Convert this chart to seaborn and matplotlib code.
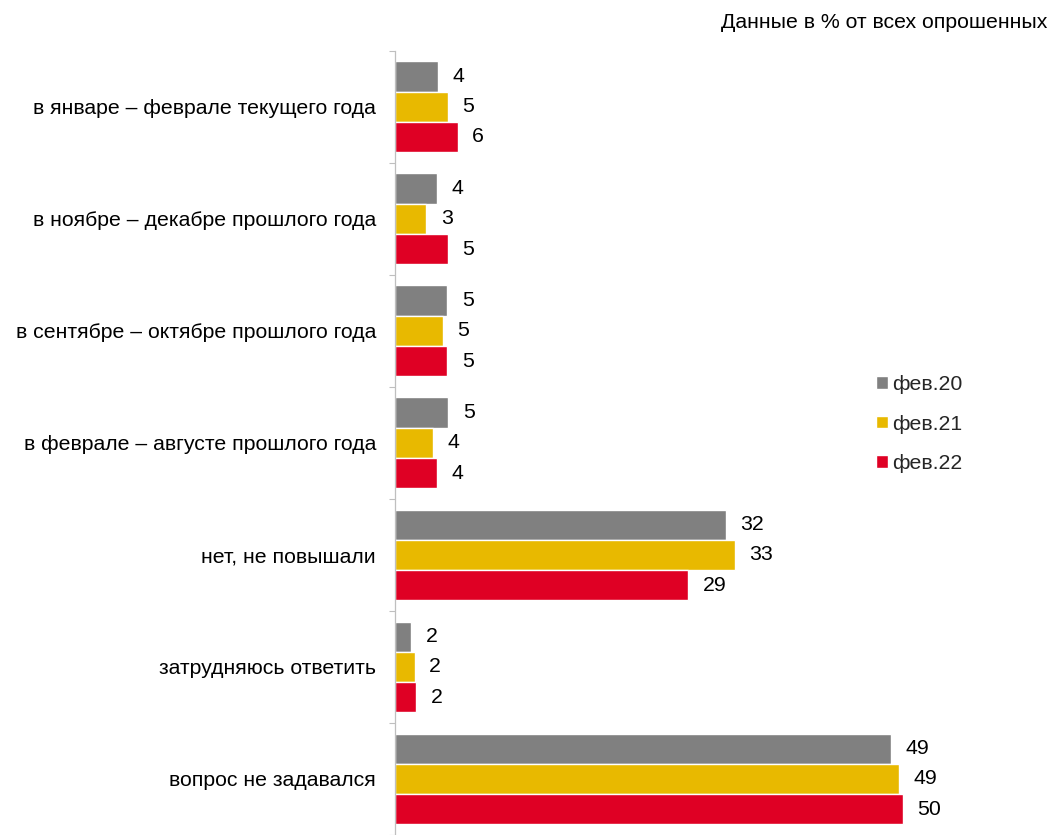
import matplotlib
matplotlib.use("Agg")
import matplotlib.pyplot as plt
import seaborn as sns
import pandas as pd

# | Data |-------------------------------------------------------------------------------------------------------------|
categories = [
    "в январе – феврале текущего года",
    "в ноябре – декабре прошлого года",
    "в сентябре – октябре прошлого года",
    "в феврале – августе прошлого года",
    "нет, не повышали",
    "затрудняюсь ответить",
    "вопрос не задавался",
]
waves = ["фев.20", "фев.21", "фев.22"]
feb20 = [4.24, 4.14, 5.15, 5.25, 32.4, 1.62, 48.6]
feb21 = [5.22, 3.09, 4.70, 3.78, 33.3, 1.96, 49.3]
feb22 = [6.16, 5.22, 5.15, 4.11, 28.7, 2.08, 49.7]
colors = ["#808080", "#E8B900", "#DF0024"]
note = "Данные в % от всех опрошенных"
# |--------------------------------------------------------------------------------------------------------------------|

rows = []
for wave, vals in zip(waves, [feb20, feb21, feb22]):
    for cat, v in zip(categories, vals):
        rows.append({"cat": cat, "wave": wave, "value": v})
df = pd.DataFrame(rows)

sns.set_theme(style="white")
plt.rcParams["font.family"] = ["Liberation Sans", "DejaVu Sans"]
fs = 15.3

W, H = 1053, 835
fig = plt.figure(figsize=(W / 100, H / 100), dpi=100)
ax_left, ax_right, ax_top = 394.7, 1000.0, 50.7
ax = fig.add_axes([ax_left / W, 0, (ax_right - ax_left) / W, 1 - ax_top / H])

sns.barplot(data=df, y="cat", x="value", hue="wave", palette=colors, orient="h",
            width=0.81, saturation=1, ax=ax, legend=True)

px_per_unit = 10.22
ax.set_xlim(0, (ax_right - ax_left) / px_per_unit)
ax.set_ylim(6.5 - 2.3 / 112.4, -0.5)

for cont in ax.containers:
    ax.bar_label(cont, fmt="%.0f", padding=10.5, fontsize=fs, color="#000000")

ax.set_xlabel("")
ax.set_ylabel("")
ax.set_xticks([])
ax.tick_params(axis="y", which="major", length=0, pad=13.5, labelsize=fs, labelcolor="#000000")
ax.set_yticks([i - 0.5 for i in range(8)], minor=True)
ax.tick_params(axis="y", which="minor", left=True, length=4.5, width=0.8, color="#BFBFBF")
for side in ["top", "right", "bottom"]:
    ax.spines[side].set_visible(False)
ax.spines["left"].set_color("#BFBFBF")
ax.spines["left"].set_linewidth(0.9)

handles, labels = ax.get_legend_handles_labels()
ax.legend(handles, labels, loc="center left", bbox_to_anchor=(876 / W, 1 - 424 / H),
          bbox_transform=fig.transFigure, frameon=False, fontsize=fs,
          handlelength=0.55, handleheight=0.55, handletextpad=0.2, labelspacing=0.95,
          borderpad=0, borderaxespad=0)

fig.text(1047 / W, 1 - 22 / H, note, ha="right", va="center", fontsize=fs, color="#000000")

fig.savefig("out.png", dpi=100)
